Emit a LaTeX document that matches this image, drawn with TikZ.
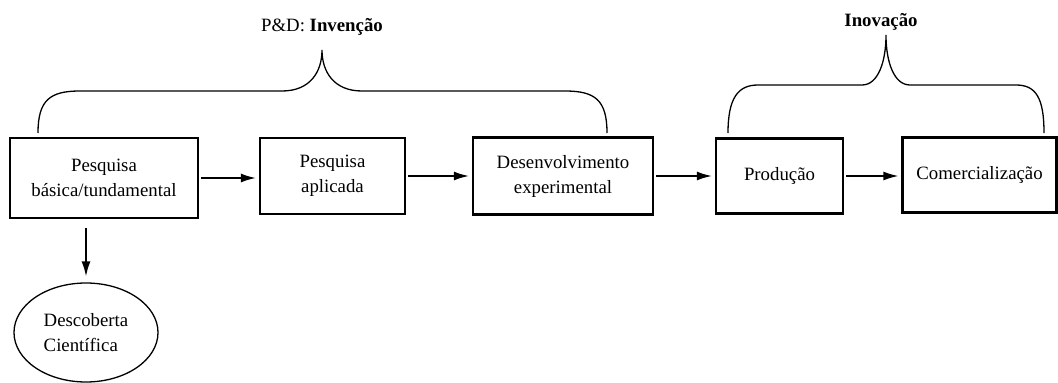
\documentclass[tikz,border=0pt]{standalone}
\usepackage{fontspec}
\setmainfont{Liberation Serif}
\usetikzlibrary{arrows.meta,shapes.geometric,positioning}
\tikzset{>={Latex[length=15pt,width=9pt]}}
\tikzset{etapa/.style={draw,line width=2.2pt,inner sep=0pt,align=center,
   font=\fontsize{18.8}{25}\selectfont},
  seta/.style={->,line width=1.7pt,shorten <=2pt,shorten >=3pt},
  chave/.style={line width=1.3pt},
  rotulo/.style={font=\fontsize{18.8}{25}\selectfont}}

\begin{document}
\begin{tikzpicture} [x=1pt,y=-1pt]
\useasboundingbox (0,0) rectangle (1058,383);
\node [etapa,minimum width=188pt,minimum height=80pt] (basica) at (104,178) {Pesquisa\\básica/tundamental};
\node [etapa,minimum width=145pt,minimum height=76pt] (aplicada) at (332.5,176) {Pesquisa\\aplicada};
\node [etapa,minimum width=180pt,minimum height=77pt] (desenv) at (563,176) {Desenvolvimento\\experimental};
\node [etapa,minimum width=127pt,minimum height=75pt] (producao) at (779.5,176) {Produção};
\node [etapa,minimum width=154pt,minimum height=75pt] (comerc) at (979.5,175) {Comercialização};
\node [etapa,ellipse,line width=1.3pt,minimum width=144pt,minimum height=99pt,align=left] (descoberta) at (86,332.5) {Descoberta\\Científica};
\draw [seta] (basica.east) -- (aplicada.west |- basica.east);
\draw [seta] (aplicada.east) -- (desenv.west |- aplicada.east);
\draw [seta] (desenv.east) -- (producao.west |- desenv.east);
\draw [seta] (producao.east) -- (comerc.west |- producao.east);
\draw [seta,shorten <=9pt,shorten >=6pt] (descoberta.north |- basica.south) -- (descoberta.north);
% chaves
\coordinate (pdtopo) at (322,50);
\coordinate (inotopo) at (886,35);
\draw [chave] (38,133) .. controls (38,100) and (50,91) .. (80,91) -- (282,91)
  .. controls (310,91) and (322,72) .. (pdtopo)
  .. controls (322,72) and (334,91) .. (362,91) -- (565,91)
  .. controls (595,91) and (607,100) .. (607,133);
\draw [chave] (728,133) .. controls (728,98) and (738,85) .. (758,85) -- (862,85)
  .. controls (878,85) and (886,62) .. (inotopo)
  .. controls (886,62) and (894,85) .. (910,85) -- (1016,85)
  .. controls (1036,85) and (1044,98) .. (1044,133);
\node [rotulo] (pd) at (322,27) {P\&D: \textbf{Invenção}};
\node [rotulo] (inovacao) at (881,22) {\textbf{Inovação}};
\end{tikzpicture}
\end{document}
